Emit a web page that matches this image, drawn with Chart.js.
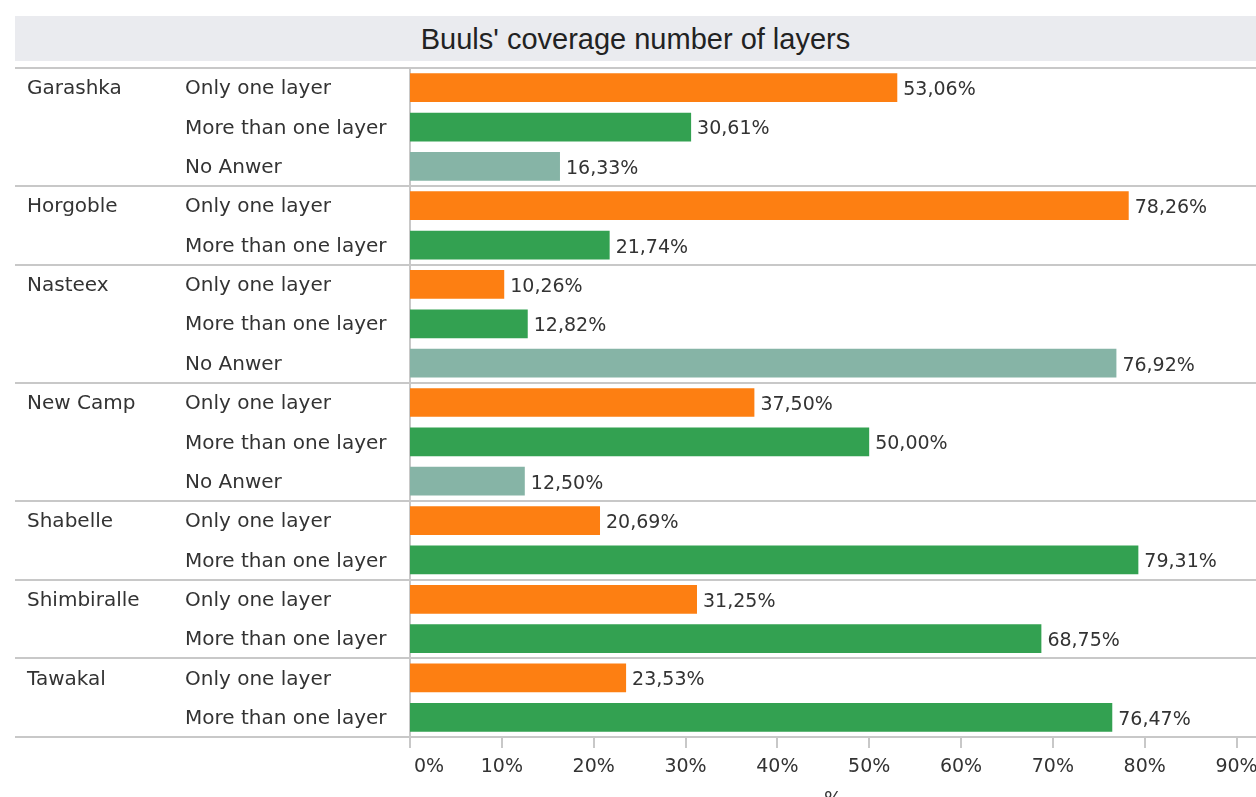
<!DOCTYPE html>
<html>
<head>
<meta charset="utf-8">
<script src="https://cdn.jsdelivr.net/npm/chart.js@4"></script>
<style>
  html, body { margin: 0; padding: 0; background: #fff; overflow: hidden; }
  #wrap { position: relative; width: 1256px; height: 797px; }
  #title {
    position: absolute; left: 15px; top: 16px; width: 1241px; height: 38px; padding-top: 7px;
    background: #eaebef; color: #222; text-align: center; line-height: 46px;
    font: 29px "Liberation Sans", Arial, sans-serif; overflow: hidden;
  }
  canvas { position: absolute; left: 0; top: 0; }
</style>
</head>
<body>
<div id="wrap">
  <canvas id="chart" width="1256" height="797"></canvas>
  <div id="title">Buuls' coverage number of layers</div>
</div>
<script>
const GROUPS = [
  'Garashka', 'Garashka', 'Garashka',
  'Horgoble', 'Horgoble',
  'Nasteex', 'Nasteex', 'Nasteex',
  'New Camp', 'New Camp', 'New Camp',
  'Shabelle', 'Shabelle',
  'Shimbiralle', 'Shimbiralle',
  'Tawakal', 'Tawakal',
];
const ANSWERS = [
  'Only one layer', 'More than one layer', 'No Anwer',
  'Only one layer', 'More than one layer',
  'Only one layer', 'More than one layer', 'No Anwer',
  'Only one layer', 'More than one layer', 'No Anwer',
  'Only one layer', 'More than one layer',
  'Only one layer', 'More than one layer',
  'Only one layer', 'More than one layer',
];
const VALUES = [
  53.06, 30.61, 16.33,
  78.26, 21.74,
  10.26, 12.82, 76.92,
  37.50, 50.00, 12.50,
  20.69, 79.31,
  31.25, 68.75,
  23.53, 76.47,
];
const X_TICKS = [0, 10, 20, 30, 40, 50, 60, 70, 80, 90];
const X_MAX = 92.12;

const ANSWER_COLORS = {
  'Only one layer': '#fd7f12',
  'More than one layer': '#33a151',
  'No Anwer': '#86b4a6',
};

const TEXT = '#333';
const LINE = '#c8c8c8';
const FONT = '"DejaVu Sans", Verdana, sans-serif';

const fmt = v => v.toFixed(2).replace('.', ',') + '%';

// Tableau-style table: row headers, separators, axis and value labels
const tablePlugin = {
  id: 'table',
  beforeDatasetsDraw(chart) {
    const { ctx, chartArea: a, scales: { x, y } } = chart;
    const rowH = (a.bottom - a.top) / VALUES.length;
    ctx.save();

    // group separators
    ctx.strokeStyle = LINE;
    ctx.lineWidth = 2;
    GROUPS.forEach((g, i) => {
      if (i === 0 || GROUPS[i - 1] !== g) {
        const yy = Math.round(y.getPixelForValue(i) - rowH / 2);
        ctx.beginPath(); ctx.moveTo(15, yy); ctx.lineTo(1256, yy); ctx.stroke();
      }
    });
    ctx.beginPath(); ctx.moveTo(15, a.bottom); ctx.lineTo(1256, a.bottom); ctx.stroke();

    // axis line and tick marks
    const x0 = x.getPixelForValue(0);
    ctx.beginPath(); ctx.moveTo(x0, a.top); ctx.lineTo(x0, a.bottom + 11); ctx.stroke();
    X_TICKS.forEach(t => {
      const xx = Math.round(x.getPixelForValue(t));
      ctx.beginPath(); ctx.moveTo(xx, a.bottom); ctx.lineTo(xx, a.bottom + 11); ctx.stroke();
    });

    // tick labels
    ctx.fillStyle = TEXT;
    ctx.font = '19px ' + FONT;
    ctx.textBaseline = 'middle';
    X_TICKS.forEach((t, i) => {
      const xx = x.getPixelForValue(t);
      ctx.textAlign = i === 0 ? 'left' : 'center';
      ctx.fillText(t + '%', i === 0 ? xx + 4 : xx, a.bottom + 30);
    });
    ctx.textAlign = 'center';
    ctx.fillText('%', (a.left + a.right) / 2, a.bottom + 63);

    // row headers
    ctx.font = '20px ' + FONT;
    ctx.textAlign = 'left';
    GROUPS.forEach((g, i) => {
      const yy = y.getPixelForValue(i) + 1.5;
      if (i === 0 || GROUPS[i - 1] !== g) ctx.fillText(g, 27, yy);
      ctx.fillText(ANSWERS[i], 185, yy);
    });
    ctx.restore();
  },
  afterDatasetsDraw(chart) {
    const { ctx, scales: { x, y } } = chart;
    ctx.save();
    ctx.fillStyle = TEXT;
    ctx.font = '19px ' + FONT;
    ctx.textAlign = 'left';
    ctx.textBaseline = 'middle';
    VALUES.forEach((v, i) => {
      ctx.fillText(fmt(v), x.getPixelForValue(v) + 6, y.getPixelForValue(i) + 2.5);
    });
    ctx.restore();
  },
};

new Chart(document.getElementById('chart'), {
  type: 'bar',
  data: {
    labels: ANSWERS.map((a, i) => GROUPS[i] + ' / ' + a),
    datasets: [{
      data: VALUES,
      backgroundColor: ANSWERS.map(a => ANSWER_COLORS[a]),
      borderWidth: 0,
      categoryPercentage: 1,
      barPercentage: 0.73,
    }],
  },
  options: {
    responsive: false,
    animation: false,
    indexAxis: 'y',
    layout: { padding: { left: 410, top: 68, right: 0, bottom: 60 } },
    plugins: { legend: { display: false }, tooltip: { enabled: false } },
    scales: {
      x: { display: false, min: 0, max: X_MAX },
      y: { display: false },
    },
  },
  plugins: [tablePlugin],
});
</script>
</body>
</html>
